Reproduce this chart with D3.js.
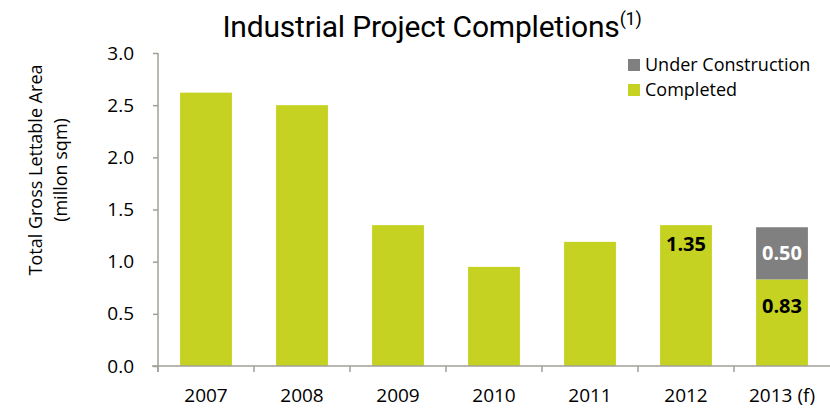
<!DOCTYPE html>
<html>
<head>
<meta charset="utf-8">
<script src="https://cdn.jsdelivr.net/npm/d3@7"></script>
<style>
  body { margin: 0; background: #fff; }
  svg text { font-family: "Open Sans", "Liberation Sans", sans-serif; }
</style>
</head>
<body>
<div class="chart"></div>
<script>
// data
let years = ["2007", "2008", "2009", "2010", "2011", "2012", "2013 (f)"];
let completed = [2.62, 2.50, 1.35, 0.95, 1.19, 1.35, 0.83];
let underConstruction = [0, 0, 0, 0, 0, 0, 0.50];
let yTicks = [0, 0.5, 1.0, 1.5, 2.0, 2.5, 3.0];
let labelled = { "2012": "1.35", "2013 (f)": "0.83" };

let margin = { top: 53, right: 0, bottom: 43, left: 158 },
  width = 830 - margin.left - margin.right,
  height = 409 - margin.top - margin.bottom;

let svg = d3.select(".chart").append("svg")
  .attr("width", 830).attr("height", 409);

let g = svg.append("g")
  .attr("transform", "translate(" + margin.left + "," + margin.top + ")");

let x = d3.scaleBand().domain(years).range([0, width]).paddingInner(0.46).paddingOuter(0.23);
let y = d3.scaleLinear().domain([0, 3]).range([height, 0]);

let rows = years.map((d, i) => ({ year: d, done: completed[i], uc: underConstruction[i] }));

// completed bars
g.selectAll(".bar-done").data(rows).enter().append("rect")
  .attr("class", "bar-done")
  .attr("x", d => x(d.year))
  .attr("y", d => y(d.done))
  .attr("width", x.bandwidth())
  .attr("height", d => height - y(d.done))
  .attr("fill", "#c5d221");

// under construction bars
g.selectAll(".bar-uc").data(rows.filter(d => d.uc > 0)).enter().append("rect")
  .attr("class", "bar-uc")
  .attr("x", d => x(d.year))
  .attr("y", d => y(d.done + d.uc))
  .attr("width", x.bandwidth())
  .attr("height", d => y(d.done) - y(d.done + d.uc))
  .attr("fill", "#808080");

// axes
let yAxis = d3.axisLeft(y).tickValues(yTicks).tickFormat(d3.format(".1f")).tickSize(5).tickPadding(19);
let yG = g.append("g").attr("class", "y-axis").call(yAxis);
yG.select(".domain").attr("d", "M0,0V" + (height + 6));

let xAxis = d3.axisBottom(x).tickSize(0).tickPadding(23);
let xG = g.append("g").attr("class", "x-axis")
  .attr("transform", "translate(0," + height + ")").call(xAxis);
xG.select(".domain").attr("d", "M-6,0H" + width);
// boundary ticks between categories
let step = x.step();
xG.selectAll(".sep").data(d3.range(years.length)).enter().append("line")
  .attr("class", "sep")
  .attr("x1", i => i * step).attr("x2", i => i * step)
  .attr("y1", 0).attr("y2", 6);

g.selectAll(".domain, .tick line, .sep").attr("stroke", "#a0a096").attr("stroke-width", 1.5);
g.selectAll(".tick text").attr("fill", "#000").style("font-size", "19px");

// value labels
g.selectAll(".lbl").data(rows.filter(d => labelled[d.year])).enter().append("text")
  .attr("class", "lbl")
  .attr("x", d => x(d.year) + x.bandwidth() / 2)
  .attr("y", d => d.uc > 0 ? y(d.done) + 34 : y(d.done) + 26)
  .attr("text-anchor", "middle")
  .style("font-size", "20px").style("font-weight", "bold")
  .text(d => labelled[d.year]);

g.selectAll(".lbl-uc").data(rows.filter(d => d.uc > 0)).enter().append("text")
  .attr("class", "lbl-uc")
  .attr("x", d => x(d.year) + x.bandwidth() / 2)
  .attr("y", d => y(d.done + d.uc / 2) + 7)
  .attr("text-anchor", "middle")
  .attr("fill", "#fff")
  .style("font-size", "20px").style("font-weight", "bold")
  .text(d => d.uc.toFixed(2));

// y axis title
let yt = svg.append("text")
  .attr("transform", "translate(42,170) rotate(-90)")
  .attr("text-anchor", "middle")
  .style("font-size", "18px");
yt.append("tspan").attr("x", 0).attr("dy", 0).text("Total Gross Lettable Area");
yt.append("tspan").attr("x", 0).attr("dy", 25).text("(millon sqm)");

// title
let title = svg.append("text")
  .attr("x", 432).attr("y", 37)
  .attr("text-anchor", "middle")
  .style("font-family", "Roboto, sans-serif")
  .style("font-size", "30px")
  .style("letter-spacing", "-0.2px");
title.append("tspan").text("Industrial Project Completions");
title.append("tspan").attr("dy", -12).style("font-size", "18px").text("(1)");

// legend
let legendItems = [
  { name: "Under Construction", color: "#808080" },
  { name: "Completed", color: "#c5d221" }
];
let lg = svg.selectAll(".legend").data(legendItems).enter().append("g")
  .attr("class", "legend")
  .attr("transform", (d, i) => "translate(628," + (59 + i * 25) + ")");
lg.append("rect").attr("width", 12).attr("height", 12).attr("fill", d => d.color);
lg.append("text").attr("x", 17).attr("y", 12).style("font-size", "18px").text(d => d.name);
</script>
</body>
</html>
